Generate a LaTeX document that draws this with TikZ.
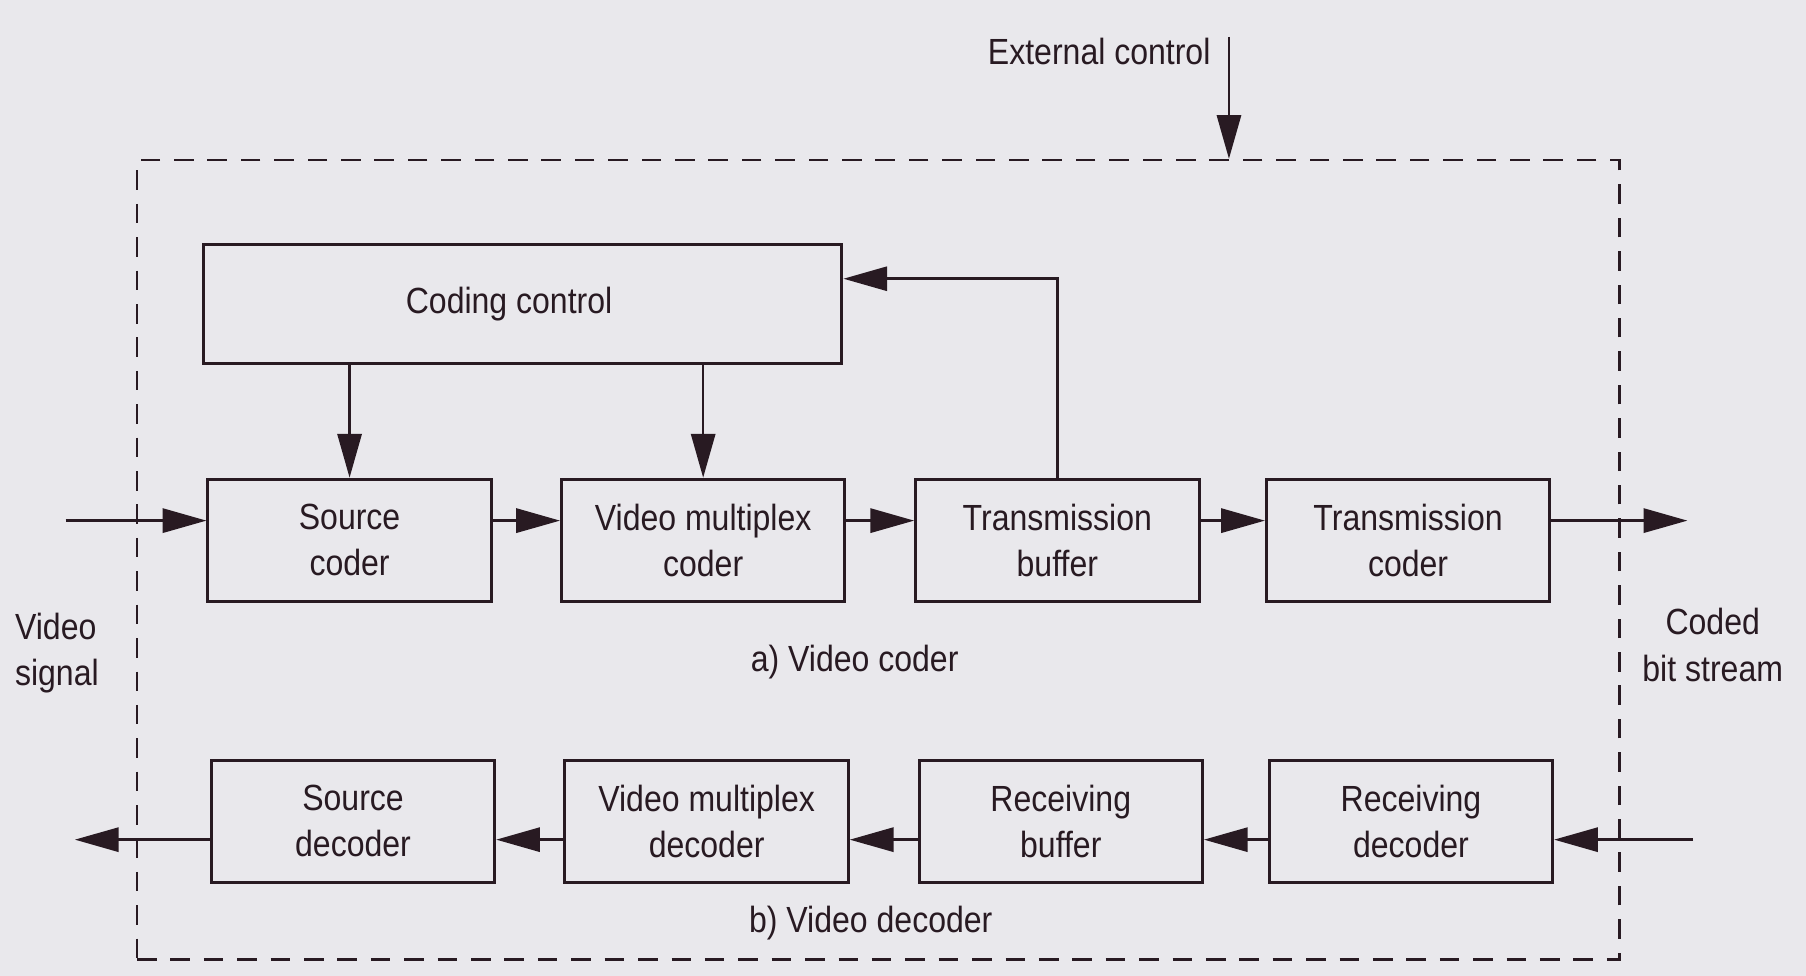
\documentclass[tikz,border=0pt]{standalone}
\usepackage{fontspec}
\setmainfont{Liberation Sans}[FakeStretch=0.88]
\usetikzlibrary{arrows.meta}
\definecolor{paper}{RGB}{233,232,236}
\definecolor{ink}{RGB}{40,26,34}
\begin{document}
\begin{tikzpicture}[x=0.5pt,y=-0.5pt,
  font=\fontsize{15.8pt}{20pt}\selectfont, text=ink,
  blk/.style={draw=ink, line width=1.3pt, minimum width=123pt, minimum height=53pt,
              align=center, inner sep=0pt},
  arr/.style={draw=ink, line width=1.1pt, -{Triangle[length=19pt,width=10.5pt]}},
  frm/.style={draw=ink, line width=1.1pt, dash pattern=on 8.5pt off 6pt, inner sep=0pt}]
  % page
  \fill[paper] (0,0) rectangle (1568,847);
  \useasboundingbox (0,0) rectangle (1568,847);

  % dashed enclosure
  \node[frm, minimum width=643.5pt, minimum height=347pt] (encl) at (762.5,486) {};

  % coder chain
  \node[blk, minimum width=277pt, minimum height=52pt] (cc) at (454,264) {Coding control\hspace*{12pt}};
  \node[blk] (sc)  at (303.5,469) {Source\\coder};
  \node[blk] (vmc) at (610.5,469) {Video multiplex\\coder};
  \node[blk] (tb)  at (918,469)   {Transmission\\buffer};
  \node[blk] (tc)  at (1222.5,469) {Transmission\\coder};

  % decoder chain
  \node[blk] (sd)  at (306.5,713) {Source\\decoder};
  \node[blk] (vmd) at (613.5,713) {Video multiplex\\decoder};
  \node[blk] (rb)  at (921,713)   {Receiving\\buffer};
  \node[blk] (rd)  at (1225,713)  {Receiving\\decoder};

  % captions and side labels
  \node (capa) at (742,575) {a) Video coder};
  \node (capb) at (756,801) {b) Video decoder};
  \node[anchor=west, align=left] (vsig) at (6,567) {Video\\signal};
  \node[align=center] (cbs) at (1487,560) {Coded\\bit stream};
  \node[anchor=east] (extl) at (1058,45) {External control};

  % signal levels and free ends
  \coordinate (ra) at (0,452);
  \coordinate (rb0) at (0,729);
  \coordinate (fb) at (0,242);
  \coordinate (vin) at (57,452);
  \coordinate (vout) at (1465,452);
  \coordinate (bin) at (1470,729);
  \coordinate (bout) at (65,729);
  \coordinate (ext) at (1067,32);

  % coder connectors
  \draw[arr] (vin) -- (sc.west |- ra);
  \draw[arr] (sc.east |- ra) -- (vmc.west |- ra);
  \draw[arr] (vmc.east |- ra) -- (tb.west |- ra);
  \draw[arr] (tb.east |- ra) -- (tc.west |- ra);
  \draw[arr] (tc.east |- ra) -- (vout);
  \draw[arr] (sc.north |- cc.south) -- (sc.north);
  \draw[arr] (vmc.north |- cc.south) -- (vmc.north);
  \draw[arr] (tb.north) |- (cc.east |- fb);
  \draw[arr] (ext) -- (ext |- encl.north);

  % decoder connectors
  \draw[arr] (bin) -- (rd.east |- rb0);
  \draw[arr] (rd.west |- rb0) -- (rb.east |- rb0);
  \draw[arr] (rb.west |- rb0) -- (vmd.east |- rb0);
  \draw[arr] (vmd.west |- rb0) -- (sd.east |- rb0);
  \draw[arr] (sd.west |- rb0) -- (bout);
\end{tikzpicture}
\end{document}
